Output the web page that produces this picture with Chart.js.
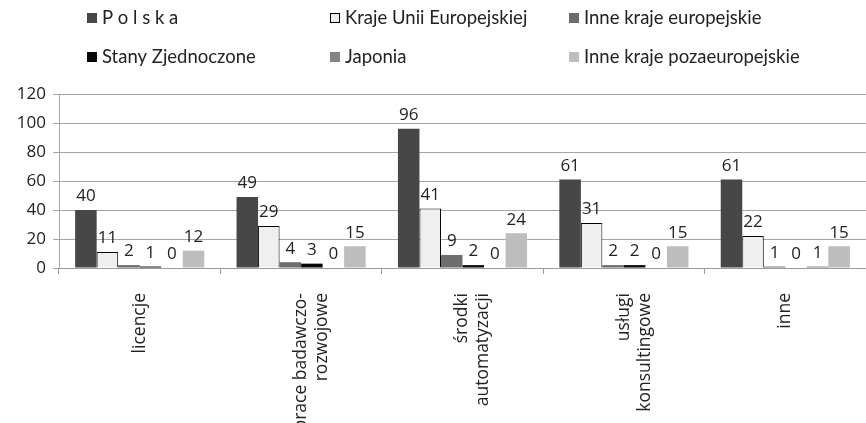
<!DOCTYPE html>
<html>
<head>
<meta charset="utf-8">
<script src="https://cdn.jsdelivr.net/npm/chart.js@4"></script>
<style>
  html, body { margin: 0; padding: 0; background: #fff; }
  #wrap { width: 866px; height: 423px; position: relative; }
</style>
</head>
<body>
<div id="wrap"><canvas id="chart" width="866" height="423"></canvas></div>
<script>
// ================= DATA =================
const categories = [
  "licencje",
  ["prace badawczo-", "rozwojowe"],
  ["środki", "automatyzacji"],
  ["usługi", "konsultingowe"],
  "inne"
];
const seriesNames = [
  "P o l s k a",
  "Kraje Unii Europejskiej",
  "Inne kraje europejskie",
  "Stany Zjednoczone",
  "Japonia",
  "Inne kraje pozaeuropejskie"
];
const polska = [40, 49, 96, 61, 61];
const krajeUE = [11, 29, 41, 31, 22];
const inneEuropejskie = [2, 4, 9, 2, 1];
const stany = [1, 3, 2, 2, 0];
const japonia = [0, 0, 0, 0, 1];
const innePozaeuropejskie = [12, 15, 24, 15, 15];
const yTicks = [0, 20, 40, 60, 80, 100, 120];

const colors = ["#474747", "#efefef", "#6d6d6d", "#080808", "#838383", "#bdbdbd"];
const seriesData = [polska, krajeUE, inneEuropejskie, stany, japonia, innePozaeuropejskie];

// ================= PLUGINS =================
// legend in a fixed 3-column grid
const gridLegend = {
  id: "gridLegend",
  afterDraw(chart) {
    const ctx = chart.ctx;
    const colX = [87, 330, 569];
    const rowY = [18, 57];
    ctx.save();
    ctx.font = "18.5px Lato";
    ctx.textBaseline = "middle";
    chart.data.datasets.forEach((ds, i) => {
      const x = colX[i % 3];
      const y = rowY[Math.floor(i / 3)];
      ctx.fillStyle = ds.backgroundColor;
      ctx.fillRect(x, y - 5, 10, 10);
      if (ds.borderWidth) {
        ctx.strokeStyle = "#000";
        ctx.lineWidth = 1;
        ctx.strokeRect(x + 0.5, y - 4.5, 9, 9);
      }
      ctx.fillStyle = "#222";
      ctx.fillText(ds.label, x + 15, y);
    });
    ctx.restore();
  }
};

// value above each bar
const barValues = {
  id: "barValues",
  afterDatasetsDraw(chart) {
    const ctx = chart.ctx;
    ctx.save();
    ctx.font = "17px 'Open Sans'";
    ctx.fillStyle = "#222";
    ctx.textAlign = "center";
    ctx.textBaseline = "bottom";
    chart.data.datasets.forEach((ds, i) => {
      chart.getDatasetMeta(i).data.forEach((bar, j) => {
        ctx.fillText(ds.data[j], bar.x, bar.y - 5);
      });
    });
    ctx.restore();
  }
};

// ================= CHART =================
const ctx = document.getElementById("chart").getContext("2d");

new Chart(ctx, {
  type: "bar",
  data: {
    labels: categories,
    datasets: seriesNames.map((name, i) => ({
      label: name,
      data: seriesData[i],
      backgroundColor: colors[i],
      borderColor: "#000",
      borderWidth: i === 1 ? 1 : 0,
      categoryPercentage: 0.8,
      barPercentage: 1
    }))
  },
  options: {
    responsive: false,
    animation: false,
    layout: { padding: { top: 94, right: 0, left: 0, bottom: 0 } },
    plugins: {
      legend: { display: false },
      tooltip: { enabled: false }
    },
    scales: {
      x: {
        grid: {
          offset: true,
          drawOnChartArea: false,
          color: "#9a9a9a",
          tickLength: 6
        },
        border: { color: "#9a9a9a" },
        ticks: {
          minRotation: 90,
          maxRotation: 90,
          autoSkip: false,
          padding: 19,
          color: "#222",
          font: { family: "Open Sans", size: 17.5 }
        },
        afterFit(scale) { scale.height = 155; }
      },
      y: {
        min: 0,
        max: 120,
        afterBuildTicks(scale) { scale.ticks = yTicks.map(v => ({ value: v })); },
        grid: { color: "#a5a5a5", tickLength: 6 },
        border: { color: "#a5a5a5" },
        ticks: {
          padding: 7,
          color: "#222",
          font: { family: "Open Sans", size: 17 }
        },
        afterFit(scale) { scale.width = 59; }
      }
    }
  },
  plugins: [gridLegend, barValues]
});
</script>
</body>
</html>
